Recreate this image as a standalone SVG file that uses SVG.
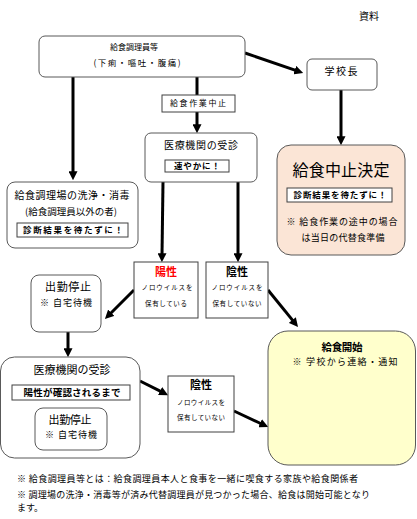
<svg xmlns="http://www.w3.org/2000/svg" width="417" height="519" viewBox="0 0 417 519">
<style>
text{font-family:"Noto Sans CJK JP","Noto Sans CJK SC",sans-serif;fill:#000;text-anchor:middle;}
.box{fill:#fff;stroke:#595959;stroke-width:1;}
.sq{fill:#fff;stroke:#404040;stroke-width:1;}
.b{font-weight:bold;}
.s{font-size:6.5px;}
.n{font-size:9px;}
.m{font-size:10px;}
.l{font-size:11px;}
.conn line{stroke:#000;stroke-width:3;marker-end:url(#ah);}
.foot{text-anchor:start;font-size:9px;}
</style>
<defs>
<marker id="ah" viewBox="0 0 10 10" markerWidth="3" markerHeight="3" refX="2" refY="5" orient="auto" markerUnits="strokeWidth">
<path d="M0,0 L10,5 L0,10 z" fill="#000"/>
</marker>
</defs>
<rect width="417" height="519" fill="#fff"/>
<text x="369" y="20" class="m">資料</text>

<g id="connectors" class="conn">
<line x1="245" y1="53" x2="296.4" y2="70.7"/>
<line x1="73" y1="77" x2="73" y2="173"/>
<line x1="197" y1="77" x2="197" y2="126"/>
<line x1="341" y1="90" x2="341" y2="138"/>
<line x1="163" y1="182" x2="162" y2="255"/>
<line x1="238" y1="182" x2="238" y2="255"/>
<line x1="134" y1="290" x2="110" y2="314"/>
<line x1="268" y1="290" x2="293.5" y2="321.4"/>
<line x1="68" y1="332" x2="68" y2="350"/>
<line x1="140" y1="381" x2="161.7" y2="391.9"/>
<line x1="234" y1="411" x2="261.7" y2="424"/>
</g>

<g id="n-staff">
<rect class="box" x="39" y="36" width="206" height="41" rx="6"/>
<text x="134" y="49.5" style="font-size:8px" textLength="48">給食調理員等</text>
<text x="137" y="65.5" style="font-size:8.5px" textLength="87">(下痢・嘔吐・腹痛)</text>
</g>

<g id="n-principal">
<rect class="box" x="307" y="59" width="70" height="31" rx="5"/>
<text x="341" y="74.5" class="m" textLength="33">学校長</text>
</g>

<g id="n-stopwork">
<rect class="sq" x="162" y="95" width="73" height="17"/>
<text x="198" y="106" style="font-size:8px" textLength="56">給食作業中止</text>
</g>

<g id="n-clinic1">
<rect class="box" x="145" y="133" width="112" height="49" rx="6"/>
<text x="201" y="148.5" class="m" textLength="74">医療機関の受診</text>
<rect class="sq" x="165" y="160" width="64" height="12"/>
<text x="197" y="169" class="b" style="font-size:8.5px" textLength="46">速やかに！</text>
</g>

<g id="n-clean">
<rect class="box" x="7" y="182" width="131" height="66" rx="8"/>
<text x="72" y="198.5" class="m" textLength="115">給食調理場の洗浄・消毒</text>
<text x="71" y="214.5" style="font-size:9.5px" textLength="92">(給食調理員以外の者)</text>
<rect class="sq" x="17" y="223" width="111" height="14"/>
<text x="73" y="233" class="b" style="font-size:8.5px" textLength="100">診断結果を待たずに！</text>
</g>

<g id="n-cancel">
<rect x="277" y="145" width="128" height="110" rx="14" fill="#FBE5D6" stroke="#595959" stroke-width="1"/>
<text x="341" y="176" style="font-size:16px" textLength="97">給食中止決定</text>
<rect class="sq" x="287" y="188" width="105" height="14"/>
<text x="340" y="198" class="b" style="font-size:8.5px" textLength="93">診断結果を待たずに！</text>
<text x="342" y="225" class="n" textLength="111">※  給食作業の途中の場合</text>
<text x="343" y="241" class="n" textLength="83">は当日の代替食準備</text>
</g>

<g id="n-positive">
<rect class="sq" x="134" y="262" width="64" height="56"/>
<text x="166" y="276" class="b l" style="fill:#FF0000" textLength="22">陽性</text>
<text x="167" y="289.5" class="s" textLength="51">ノロウイルスを</text>
<text x="166" y="305.5" class="s" textLength="42">保有している</text>
</g>

<g id="n-negative">
<rect class="sq" x="206" y="262" width="62" height="56"/>
<text x="237" y="276" class="b l" textLength="22">陰性</text>
<text x="237" y="289.5" class="s" textLength="51">ノロウイルスを</text>
<text x="237" y="305.5" class="s" textLength="49">保有していない</text>
</g>

<g id="n-suspend">
<rect class="box" x="31" y="275" width="70" height="57" rx="8"/>
<text x="68" y="291" class="l" textLength="46">出勤停止</text>
<text x="66" y="306" class="n" textLength="52">※  自宅待機</text>
</g>

<g id="n-clinic2">
<rect class="box" x="0.5" y="357" width="139.5" height="101" rx="14"/>
<text x="72" y="374" class="l" textLength="77">医療機関の受診</text>
<rect class="sq" x="12" y="385" width="118" height="15"/>
<text x="72" y="395.5" class="b" style="font-size:9.5px" textLength="97">陽性が確認されるまで</text>
<rect class="box" x="35" y="408" width="72" height="42" rx="8"/>
<text x="70" y="424" class="l" textLength="43">出勤停止</text>
<text x="71" y="438" class="n" textLength="52">※  自宅待機</text>
</g>

<g id="n-negative2">
<rect class="sq" x="168" y="376" width="66" height="56"/>
<text x="201" y="389" class="b l" textLength="22">陰性</text>
<text x="201" y="404.5" class="s" textLength="48">ノロウイルスを</text>
<text x="201" y="419.5" class="s" textLength="48">保有していない</text>
</g>

<g id="n-resume">
<rect x="268" y="331" width="147.5" height="134" rx="20" fill="#FFFFCC" stroke="#595959" stroke-width="1"/>
<text x="342" y="351" class="b" style="font-size:10.5px" textLength="41">給食開始</text>
<text x="345" y="365" class="n" textLength="105">※  学校から連絡・通知</text>
</g>

<g id="notes">
<text x="17" y="482" class="foot" textLength="341">※ 給食調理員等とは：給食調理員本人と食事を一緒に喫食する家族や給食関係者</text>
<text x="17" y="498" class="foot" textLength="353">※ 調理場の洗浄・消毒等が済み代替調理員が見つかった場合、給食は開始可能となり</text>
<text x="17" y="511" class="foot">ます。</text>
</g>
</svg>
